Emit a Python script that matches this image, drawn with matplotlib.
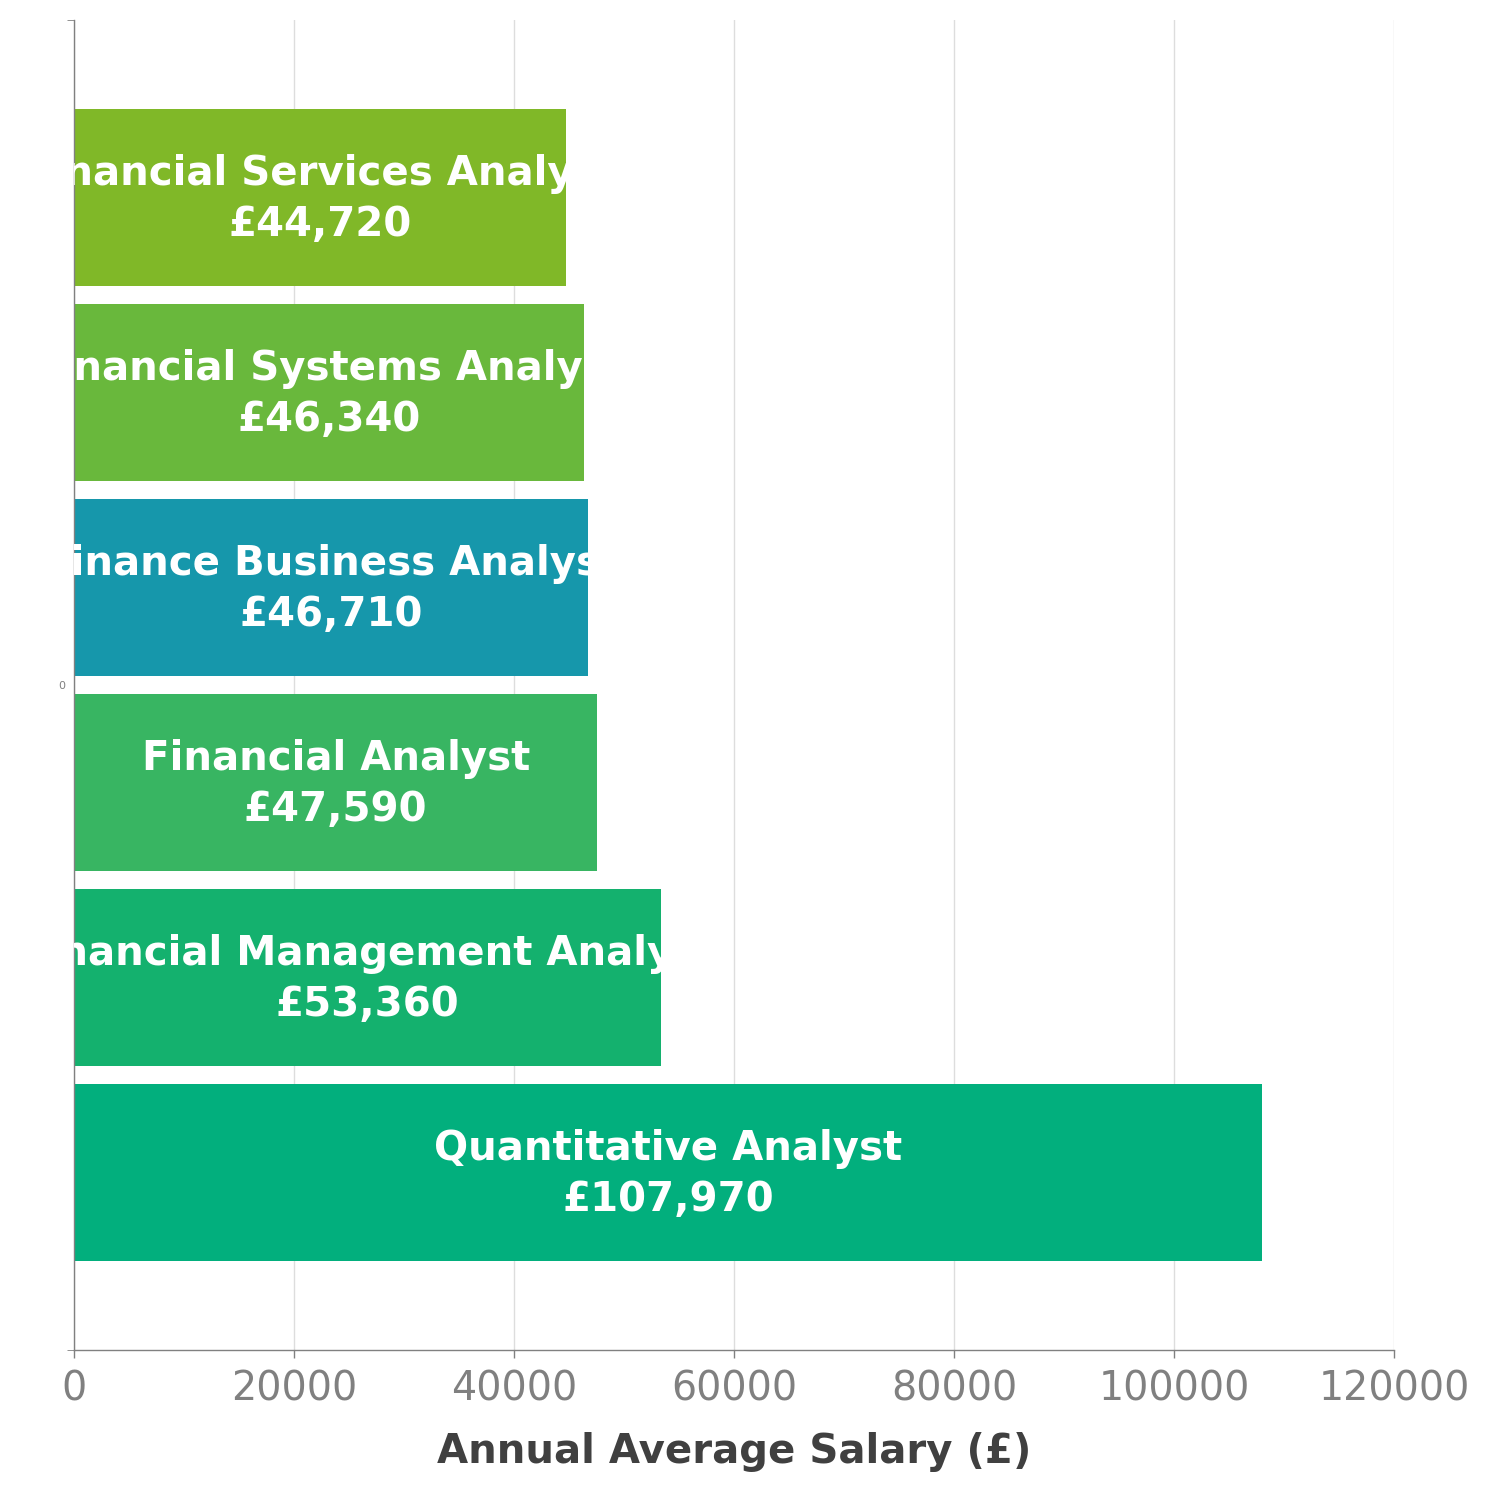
import numpy as np
import matplotlib
matplotlib.use("Agg")
import matplotlib.pyplot as plt

# Data (top to bottom)
roles = ["Financial Services Analyst", "Financial Systems Analyst",
         "Finance Business Analyst", "Financial Analyst",
         "Financial Management Analyst", "Quantitative Analyst"]
salaries = [44720, 46340, 46710, 47590, 53360, 107970]
colors = ["#80b828", "#69b83c", "#1697ab", "#38b562", "#14b16e", "#02af7d"]

fig = plt.figure(figsize=(15, 15), dpi=100)
ax = fig.add_axes([74/1500, 150/1500, 1320/1500, 1330/1500])

pos = np.arange(len(roles))
ax.barh(pos, salaries, height=0.908, color=colors, zorder=2)

for p, s, r in zip(pos, salaries, roles):
    ax.text(s / 2, p + 0.01, r + "\n£{:,}".format(s), ha="center", va="center",
            color="white", fontsize=29, fontweight="bold",
            linespacing=1.33, clip_on=True, zorder=3)

ax.set_xlim(0, 120000)
ax.set_ylim(5.91, -0.91)
ax.set_xticks(np.arange(0, 120001, 20000))
ax.tick_params(axis="x", labelsize=28.5, labelcolor="#808080", color="#808080",
               length=6, width=1, pad=8)
ax.grid(axis="x", color="#dddddd", linewidth=1, zorder=0)

ax.set_yticks([2.5])
ax.set_yticklabels(["0"])
ax.set_yticks([-0.91, 5.91], minor=True)
ax.tick_params(axis="y", which="major", length=0, labelsize=8,
               labelcolor="#808080", pad=6)
ax.tick_params(axis="y", which="minor", length=5, color="#808080")

for side in ["top", "right"]:
    ax.spines[side].set_visible(False)
for side in ["left", "bottom"]:
    ax.spines[side].set_color("#808080")
    ax.spines[side].set_linewidth(1)

ax.set_xlabel("Annual Average Salary (£)", fontsize=29, fontweight="bold",
              color="#404040", labelpad=16)

fig.savefig("out.png", dpi=100)
